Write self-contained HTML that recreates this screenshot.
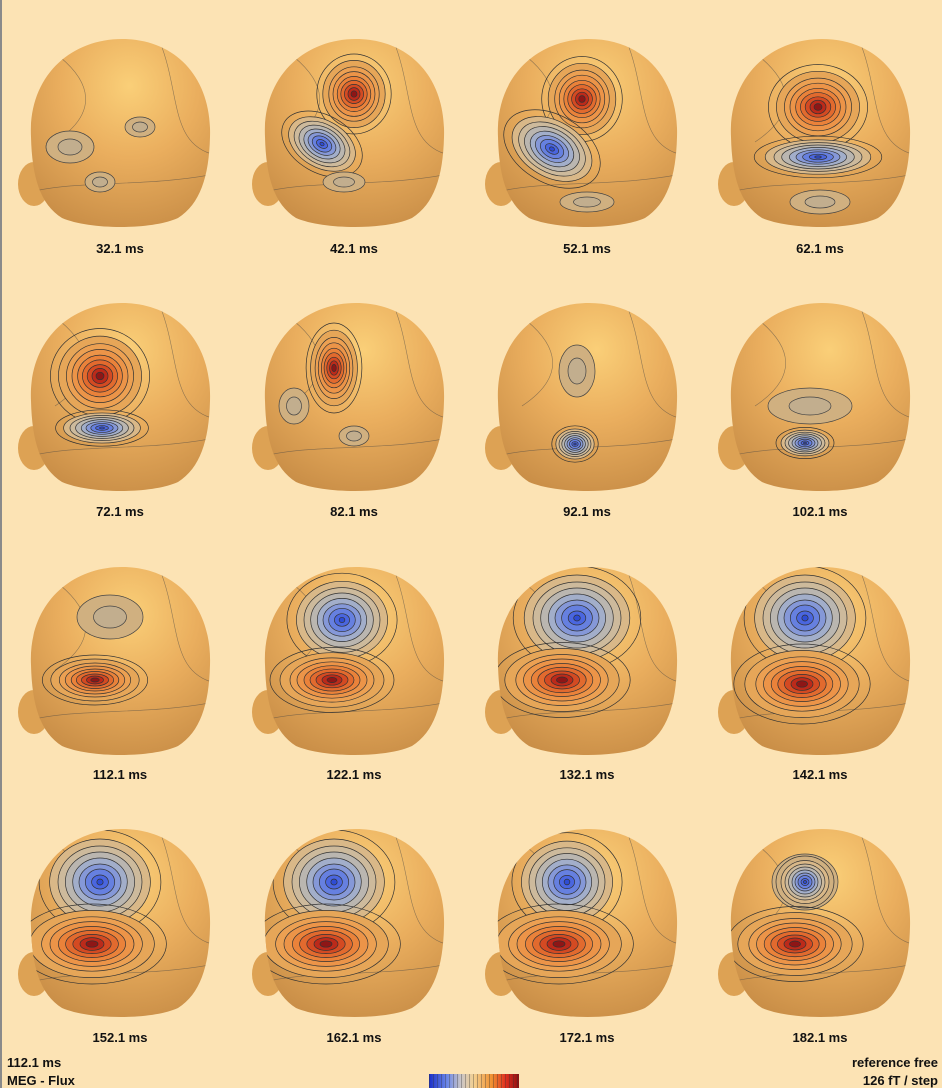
<!DOCTYPE html>
<html><head><meta charset="utf-8"><style>
body{margin:0;background:#FCE3B4;}
#w{position:relative;width:942px;height:1088px;background:#FCE3B4;border-left:2px solid #8a8a8a;box-sizing:border-box;overflow:hidden;font-family:"Liberation Sans",sans-serif;}
.l{position:absolute;font-weight:bold;font-size:13px;color:#111;width:120px;text-align:center;}
.t{position:absolute;font-weight:bold;font-size:13px;color:#111;}
svg{position:absolute;left:0;top:0}
</style></head><body><div id="w">
<svg width="942" height="1088" viewBox="0 0 942 1088">
<defs>
<radialGradient id="hg" cx="0.55" cy="0.25" r="0.85">
<stop offset="0" stop-color="#FACF78"/><stop offset="0.45" stop-color="#EAAE5E"/><stop offset="1" stop-color="#C58A44"/>
</radialGradient>
<clipPath id="hc"><path d="M-89,5 C-92,-55 -50,-93 2,-93 C55,-93 92,-55 90,5 C89,45 80,72 58,86 C32,98 -30,98 -58,86 C-80,72 -88,45 -89,5Z"/></clipPath>
<g id="head">
<ellipse cx="-86" cy="52" rx="16" ry="22" fill="#DDA254"/>
<path d="M-89,5 C-92,-55 -50,-93 2,-93 C55,-93 92,-55 90,5 C89,45 80,72 58,86 C32,98 -30,98 -58,86 C-80,72 -88,45 -89,5Z" fill="url(#hg)"/>
<g clip-path="url(#hc)" fill="none" stroke="#444" stroke-width="0.6" opacity="0.55">
<path d="M-90,60 C-40,48 30,55 95,42"/>
<path d="M-60,-75 C-30,-50 -20,-20 -65,10"/>
<path d="M40,-90 C60,-40 50,10 92,22"/>
</g>
</g>
<g id="pos" stroke="#333" stroke-width="0.7">
<ellipse rx="62" ry="50" fill="none" vector-effect="non-scaling-stroke"/>
<ellipse rx="52" ry="42" fill="#E6A658" vector-effect="non-scaling-stroke"/>
<ellipse rx="42" ry="34" fill="#ECA052" vector-effect="non-scaling-stroke"/>
<ellipse rx="35" ry="28" fill="#EC9448" vector-effect="non-scaling-stroke"/>
<ellipse rx="28" ry="22" fill="#EA823A" vector-effect="non-scaling-stroke"/>
<ellipse rx="22" ry="17" fill="#E26A2E" vector-effect="non-scaling-stroke"/>
<ellipse rx="16" ry="12" fill="#D44A22" vector-effect="non-scaling-stroke"/>
<ellipse rx="10" ry="8" fill="#BC2A1A" vector-effect="non-scaling-stroke"/>
<ellipse rx="5" ry="4" fill="#8E1616" vector-effect="non-scaling-stroke"/>
</g>
<g id="neg" stroke="#333" stroke-width="0.7">
<ellipse rx="58" ry="52" fill="none" vector-effect="non-scaling-stroke"/>
<ellipse rx="48" ry="43" fill="#D9B888" vector-effect="non-scaling-stroke"/>
<ellipse rx="40" ry="36" fill="#CDBA9C" vector-effect="non-scaling-stroke"/>
<ellipse rx="33" ry="30" fill="#BAB6B0" vector-effect="non-scaling-stroke"/>
<ellipse rx="26" ry="24" fill="#A2AECA" vector-effect="non-scaling-stroke"/>
<ellipse rx="20" ry="18" fill="#8598D8" vector-effect="non-scaling-stroke"/>
<ellipse rx="14" ry="13" fill="#6680E0" vector-effect="non-scaling-stroke"/>
<ellipse rx="8" ry="7" fill="#4A66E0" vector-effect="non-scaling-stroke"/>
<ellipse rx="3" ry="3" fill="#2E4CD4" vector-effect="non-scaling-stroke"/>
</g>
<g id="faint" stroke="#444" stroke-width="0.7">
<ellipse rx="30" ry="20" vector-effect="non-scaling-stroke" fill="#D0B080"/>
<ellipse rx="15" ry="10" vector-effect="non-scaling-stroke" fill="#C2AE8E"/>
</g>
</defs>
<g transform="translate(118,132)"><use href="#head"/><g clip-path="url(#hc)">
<use href="#faint" transform="translate(-50,15) scale(0.8)"/><use href="#faint" transform="translate(20,-5) scale(0.5)"/><use href="#faint" transform="translate(-20,50) scale(0.5)"/></g></g>
<g transform="translate(352,132)"><use href="#head"/><g clip-path="url(#hc)">
<use href="#pos" transform="translate(0,-38) scale(0.6,0.8)"/><use href="#neg" transform="translate(-32,12) rotate(30) scale(0.75,0.55)"/><use href="#faint" transform="translate(-10,50) scale(0.7,0.5)"/></g></g>
<g transform="translate(585,132)"><use href="#head"/><g clip-path="url(#hc)">
<use href="#pos" transform="translate(-5,-33) scale(0.65,0.85)"/><use href="#neg" transform="translate(-35,17) rotate(30) scale(0.9,0.65)"/><use href="#faint" transform="translate(0,70) scale(0.9,0.5)"/></g></g>
<g transform="translate(818,132)"><use href="#head"/><g clip-path="url(#hc)">
<use href="#pos" transform="translate(-2,-25) scale(0.8,0.85)"/><use href="#neg" transform="translate(-2,25) scale(1.1,0.4)"/><use href="#faint" transform="translate(0,70) scale(1,0.6)"/></g></g>
<g transform="translate(118,396)"><use href="#head"/><g clip-path="url(#hc)">
<use href="#pos" transform="translate(-20,-20) scale(0.8,0.95)"/><use href="#neg" transform="translate(-18,32) scale(0.8,0.35)"/></g></g>
<g transform="translate(352,396)"><use href="#head"/><g clip-path="url(#hc)">
<use href="#pos" transform="translate(-20,-28) scale(0.45,0.9)"/><use href="#faint" transform="translate(-60,10) scale(0.5,0.9)"/><use href="#faint" transform="translate(0,40) scale(0.5)"/></g></g>
<g transform="translate(585,396)"><use href="#head"/><g clip-path="url(#hc)">
<use href="#faint" transform="translate(-10,-25) scale(0.6,1.3)"/><use href="#neg" transform="translate(-12,48) scale(0.4,0.35)"/></g></g>
<g transform="translate(818,396)"><use href="#head"/><g clip-path="url(#hc)">
<use href="#faint" transform="translate(-10,10) scale(1.4,0.9)"/><use href="#neg" transform="translate(-15,47) scale(0.5,0.3)"/></g></g>
<g transform="translate(118,660)"><use href="#head"/><g clip-path="url(#hc)">
<use href="#faint" transform="translate(-10,-43) scale(1.1)"/><use href="#pos" transform="translate(-25,20) scale(0.85,0.5)"/></g></g>
<g transform="translate(352,660)"><use href="#head"/><g clip-path="url(#hc)">
<use href="#neg" transform="translate(-12,-40) scale(0.95,0.9)"/><use href="#pos" transform="translate(-22,20) scale(1,0.65)"/></g></g>
<g transform="translate(585,660)"><use href="#head"/><g clip-path="url(#hc)">
<use href="#neg" transform="translate(-10,-42) scale(1.1,1)"/><use href="#pos" transform="translate(-25,20) scale(1.1,0.75)"/></g></g>
<g transform="translate(818,660)"><use href="#head"/><g clip-path="url(#hc)">
<use href="#neg" transform="translate(-15,-42) scale(1.05,1)"/><use href="#pos" transform="translate(-18,24) scale(1.1,0.8)"/></g></g>
<g transform="translate(118,922)"><use href="#head"/><g clip-path="url(#hc)">
<use href="#neg" transform="translate(-20,-40) scale(1.05,1)"/><use href="#pos" transform="translate(-28,22) scale(1.2,0.8)"/></g></g>
<g transform="translate(352,922)"><use href="#head"/><g clip-path="url(#hc)">
<use href="#neg" transform="translate(-20,-40) scale(1.05,1)"/><use href="#pos" transform="translate(-28,22) scale(1.2,0.8)"/></g></g>
<g transform="translate(585,922)"><use href="#head"/><g clip-path="url(#hc)">
<use href="#neg" transform="translate(-20,-40) scale(0.95,0.95)"/><use href="#pos" transform="translate(-28,22) scale(1.2,0.8)"/></g></g>
<g transform="translate(818,922)"><use href="#head"/><g clip-path="url(#hc)">
<use href="#faint" transform="translate(-15,-40) scale(1.1,1.4)"/><use href="#neg" transform="translate(-15,-40) scale(0.5,0.5)"/><use href="#pos" transform="translate(-25,22) scale(1.1,0.75)"/></g></g>
<defs><linearGradient id="cb" x1="0" x2="1">
<stop offset="0" stop-color="#1A2FC8"/><stop offset="0.2" stop-color="#6A86E8"/><stop offset="0.35" stop-color="#C8C4C8"/><stop offset="0.5" stop-color="#F4D090"/><stop offset="0.7" stop-color="#F09030"/><stop offset="0.85" stop-color="#E03020"/><stop offset="1" stop-color="#8E1010"/>
</linearGradient>
<pattern id="st" width="4" height="20" patternUnits="userSpaceOnUse"><rect x="3" width="1" height="20" fill="#333" opacity="0.35"/></pattern></defs>
<rect x="427" y="1074" width="90" height="14" fill="url(#cb)"/>
<rect x="427" y="1074" width="90" height="14" fill="url(#st)"/>
</svg>
<div class="l" style="left:58px;top:241px">32.1 ms</div>
<div class="l" style="left:292px;top:241px">42.1 ms</div>
<div class="l" style="left:525px;top:241px">52.1 ms</div>
<div class="l" style="left:758px;top:241px">62.1 ms</div>
<div class="l" style="left:58px;top:504px">72.1 ms</div>
<div class="l" style="left:292px;top:504px">82.1 ms</div>
<div class="l" style="left:525px;top:504px">92.1 ms</div>
<div class="l" style="left:758px;top:504px">102.1 ms</div>
<div class="l" style="left:58px;top:767px">112.1 ms</div>
<div class="l" style="left:292px;top:767px">122.1 ms</div>
<div class="l" style="left:525px;top:767px">132.1 ms</div>
<div class="l" style="left:758px;top:767px">142.1 ms</div>
<div class="l" style="left:58px;top:1030px">152.1 ms</div>
<div class="l" style="left:292px;top:1030px">162.1 ms</div>
<div class="l" style="left:525px;top:1030px">172.1 ms</div>
<div class="l" style="left:758px;top:1030px">182.1 ms</div>
<div class="t" style="left:5px;top:1055px">112.1 ms</div>
<div class="t" style="left:5px;top:1073px">MEG - Flux</div>
<div class="t" style="right:4px;top:1055px">reference free</div>
<div class="t" style="right:4px;top:1073px">126 fT / step</div>
</div></body></html>
